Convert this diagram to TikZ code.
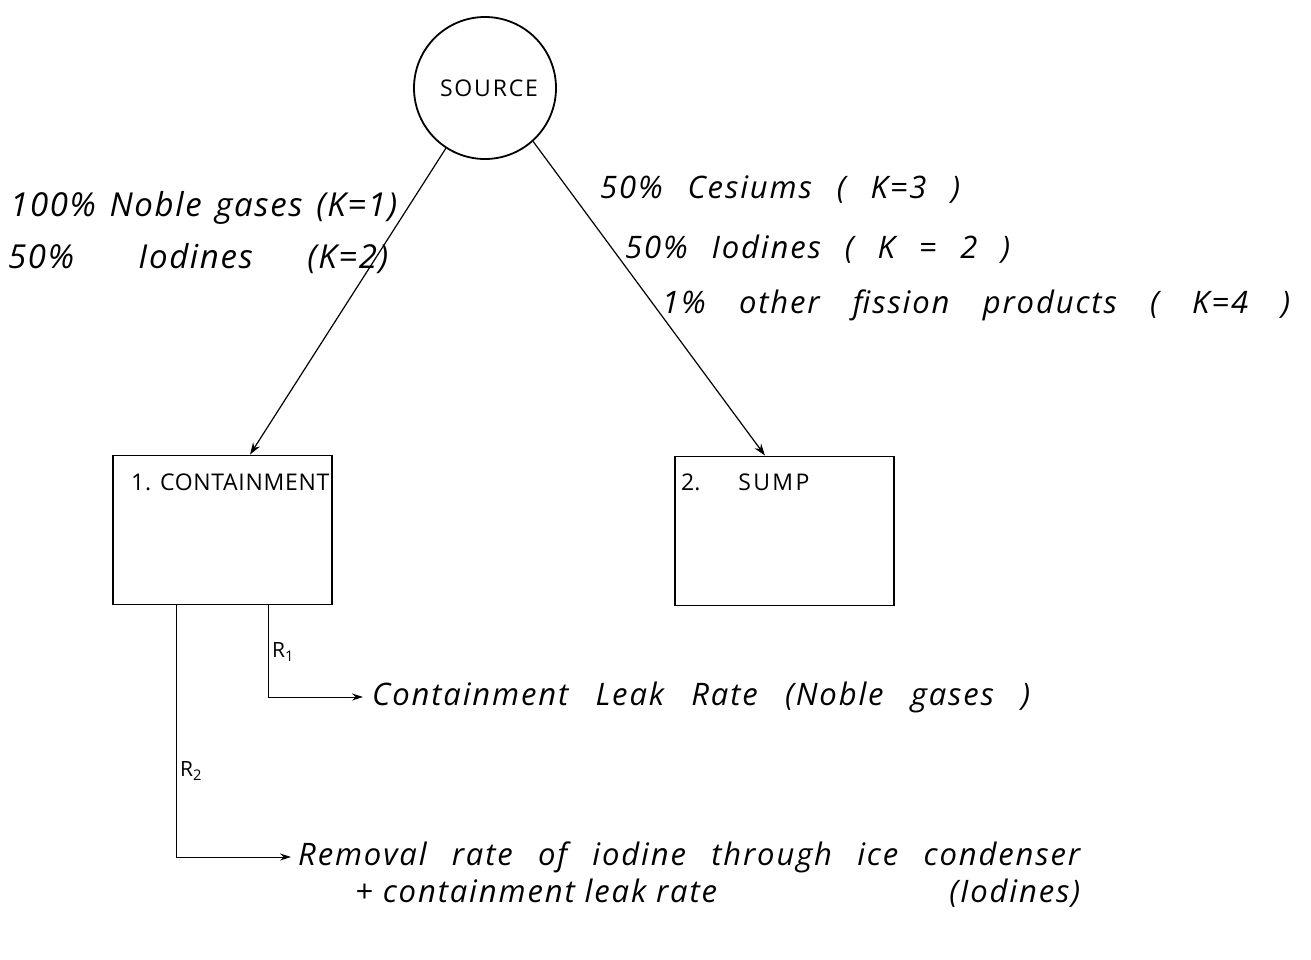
\documentclass[tikz,border=0pt]{standalone}
\usepackage{fontspec}
\setmainfont{Open Sans}
\usetikzlibrary{arrows.meta}
% stretch a line of handwriting-like text to a given width
\newcommand{\spread}[2]{\makebox[#1][s]{#2}}
\begin{document}
\begin{tikzpicture}[x=1pt,y=-1pt,
  hand/.style={font=\fontsize{33}{35}\selectfont\itshape\addfontfeature{LetterSpace=5}, inner sep=0pt, anchor=west},
  handsm/.style={font=\fontsize{31}{33}\selectfont\itshape\addfontfeature{LetterSpace=6}, inner sep=0pt, anchor=west},
  caps/.style={font=\fontsize{23}{25}\selectfont, inner sep=0pt},
  sub/.style={font=\fontsize{21}{22}\selectfont, inner sep=0pt, anchor=west},
  box/.style={draw, line width=1.8pt, minimum width=219pt, minimum height=149pt, inner sep=0pt},
  flow/.style={line width=1.2pt, -{Stealth[length=12pt,width=8pt]}},
  lead/.style={line width=1pt, -{Stealth[length=11pt,width=7pt]}},
]
\useasboundingbox[fill=white] (0,0) rectangle (1311,959);

% source and the two compartments
\node[draw, circle, line width=1.8pt, minimum size=142pt, inner sep=0pt] (src) at (485,88) {};
\node[caps] (srclabel) at (489,88) {\addfontfeature{LetterSpace=8}SOURCE};

\node[box] (cont) at (222.5,530) {};
\node[box] (sump) at (784.5,531) {};
\node[caps, anchor=west] (contlabel) at (131,482) {\addfontfeature{LetterSpace=3}1. CONTAINMENT};
\node[caps, anchor=west] (sumplabel) at (681,482) {2.\hspace{38pt}{\addfontfeature{LetterSpace=10}SUMP}};

% release paths from the source
\draw[flow] (src.237) -- ([xshift=27.5pt]cont.north);
\draw[flow] (src.312) -- ([xshift=-19.5pt]sump.north);

\node[hand] (ng) at (10,208) {\spread{387pt}{100\% Noble gases (K=1)}};
\node[hand] (iod1) at (8,259) {\spread{380pt}{50\% \hspace{10pt}Iodines (K=2)}};

\node[handsm] (cs) at (600,190) {\spread{360pt}{50\% Cesiums ( K=3 )}};
\node[handsm] (iod2) at (625,249) {\spread{385pt}{50\% Iodines ( K = 2 )}};
\node[handsm] (fp) at (662,305) {\spread{628pt}{1\% other fission products ( K=4 )}};

% removal paths out of the containment
\node[handsm] (leak) at (372,697) {\spread{658pt}{Containment Leak Rate (Noble gases )}};
\node[handsm] (rem) at (298,857) {\spread{782pt}{Removal rate of iodine through ice condenser}};
\node[handsm] (rem2) at (355,893) {\makebox[725pt][l]{+ containment leak rate\hfill(Iodines)}};

\draw[lead] ([xshift=45.5pt]cont.south) |- ([xshift=-9pt]leak.west);
\draw[lead] ([xshift=-46.5pt]cont.south) |- ([xshift=-7pt]rem.west);

\node[sub] (r1) at (272,652) {R\textsubscript{1}};
\node[sub] (r2) at (180,771) {R\textsubscript{2}};
\end{tikzpicture}
\end{document}
